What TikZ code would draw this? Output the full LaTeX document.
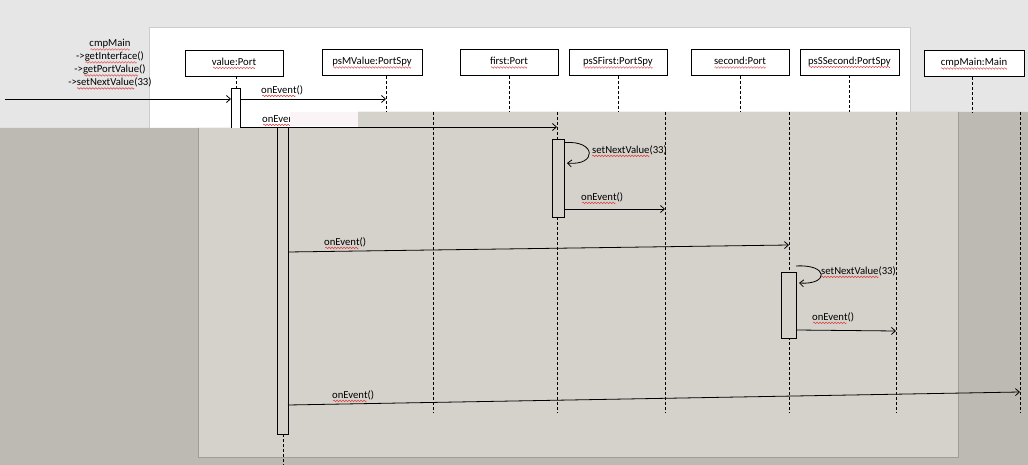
\documentclass[tikz,border=0pt]{standalone}
\usepackage{fontspec}
\setmainfont{Carlito}
\usetikzlibrary{arrows.meta}
\definecolor{bandgray}{RGB}{230,230,230}
\definecolor{shadegray}{RGB}{189,186,180}
\definecolor{panelgray}{RGB}{213,210,204}
\definecolor{paneledge}{RGB}{160,157,152}
\definecolor{sqred}{RGB}{222,60,60}
\definecolor{glitch}{RGB}{250,244,247}
\newsavebox\wavebox
\newsavebox\sqtext
\newcommand\sq[1]{\sbox\sqtext{#1}\leavevmode\rlap{\hbox to \wd\sqtext{\cleaders\copy\wavebox\hfill}}\usebox\sqtext}
\tikzset{
	obj/.style={draw,fill=white,line width=0.8pt,minimum width=98pt,minimum height=26pt,inner sep=0pt,text height=7.5pt,text depth=2.5pt},
	act/.style={draw,fill=panelgray,line width=0.8pt,inner sep=0pt},
	life/.style={line width=0.7pt,dash pattern=on 3pt off 2pt},
	msg/.style={line width=0.8pt,-{Straight Barb[length=4pt,width=7pt]}},
	lbl/.style={anchor=base west,inner sep=0pt}
}
\begin{document}
\sbox\wavebox{\begin{pgfpicture}
	\pgfsetbaseline{0pt}
	\pgfpathrectangle{\pgfpoint{0pt}{-3.4pt}}{\pgfpoint{3pt}{3.4pt}}
	\pgfusepath{use as bounding box}
	\pgfsetstrokecolor{sqred}
	\pgfsetlinewidth{0.45pt}
	\pgfpathmoveto{\pgfpoint{0pt}{-2.4pt}}
	\pgfpathsine{\pgfpoint{0.75pt}{0.8pt}}
	\pgfpathcosine{\pgfpoint{0.75pt}{-0.8pt}}
	\pgfpathsine{\pgfpoint{0.75pt}{-0.8pt}}
	\pgfpathcosine{\pgfpoint{0.75pt}{0.8pt}}
	\pgfusepath{stroke}
\end{pgfpicture}}
\begin{tikzpicture}[x=1pt,y=-1pt,every node/.style={font=\fontsize{10.7}{13}\selectfont}]
	\useasboundingbox (0,0) rectangle (1028,465);
	% screen background
	\fill[bandgray] (0,0) rectangle (1028,465);
	\filldraw[fill=white,draw=black!20] (149,27) rectangle (910,128);
	\fill[shadegray] (0,128) -- (358,128) -- (358,112) -- (1028,112) -- (1028,465) -- (0,465) -- cycle;
	\fill[panelgray] (198,128) -- (358,128) -- (358,112) -- (958,112) -- (958,457) -- (198,457) -- cycle;
	\draw[paneledge] (958,112) -- (958,457) -- (198,457) -- (198,128);

	% objects
	\node[obj] (value) at (234,63) {\sq{value:Port}};
	\node[obj,minimum width=100pt] (psMValue) at (372,62.5) {\sq{psMValue:PortSpy}};
	\node[obj] (first) at (509,62.5) {\sq{first:Port}};
	\node[obj] (psSFirst) at (618,62.5) {\sq{psSFirst:PortSpy}};
	\node[obj] (second) at (740,62.5) {\sq{second:Port}};
	\node[obj,minimum width=99pt] (psSSecond) at (849.5,62) {\sq{psSSecond:PortSpy}};
	\node[obj,minimum width=100pt] (cmpMain) at (974,63.5) {\sq{cmpMain:Main}};

	% upper lifelines
	\draw[life] ([xshift=2pt]value.south) -- ++(0,12);
	\draw[life] ([xshift=14pt]psMValue.south) -- ++(0,36);
	\foreach \n in {first,psSFirst,second,psSSecond}
		\draw[life] (\n.south) -- (\n.south |- 0,112);
	\draw[life] ([xshift=-2pt]cmpMain.south) -- ([xshift=-2pt]cmpMain.south |- 0,112);
	\draw[act,fill=white] (231,128) |- (240,88) -- (240,128);

	% lower lifelines
	\foreach \x in {433,557,665,789,896,1020}
		\draw[life] (\x,112) -- (\x,413);
	\draw[act] (277,128) |- (288,434) -- (288,128);
	\draw[life] (283,434) -- (283,465);
	\node[act,minimum width=12pt,minimum height=78pt] (actFirst) at (558,178) {};
	\node[act,minimum width=15pt,minimum height=66pt] (actSecond) at (788.5,305) {};

	% messages
	\node[align=center] (call) at (110,64.5) {\sq{cmpMain}\\->\sq{getInterface}()\\->\sq{getPortValue}()\\->\sq{setNextValue}(33)};
	\coordinate (entry) at (5,99);
	\draw[msg] (entry) -- (231,99);
	\draw[msg] (240,99) -- (386,99);
	\node[lbl] (ev1) at (261,93.5) {\sq{onEvent}()};
	\draw[msg] (240,127) -- (557,127);
	\node[lbl] (ev2) at (262,122.5) {\sq{onEvent}()};
	\fill[glitch] (290,112) rectangle (358,126.5);
	\draw[msg] ([yshift=-4pt]actFirst.north east) .. controls (597,140) and (597,166) .. (567,163);
	\node[lbl] (set1) at (592,153.5) {\sq{setNextValue}(33)};
	\draw[msg] (actFirst.east |- 0,209) -- (665,209);
	\node[lbl] (ev3) at (581,200.5) {\sq{onEvent}()};
	\draw[msg] (288,252) -- (789,245);
	\node[lbl] (ev4) at (324,245.5) {\sq{onEvent}()};
	\draw[msg] (796,266) .. controls (829,264) and (829,285) .. (799,283);
	\node[lbl] (set2) at (821,274.5) {\sq{setNextValue}(33)};
	\draw[msg] (actSecond.east |- 0,330) -- (896,331);
	\node[lbl] (ev5) at (812,320.5) {\sq{onEvent}()};
	\draw[msg] (288,405) -- (1020,392);
	\node[lbl] (ev6) at (332,398.5) {\sq{onEvent}()};
\end{tikzpicture}
\end{document}
